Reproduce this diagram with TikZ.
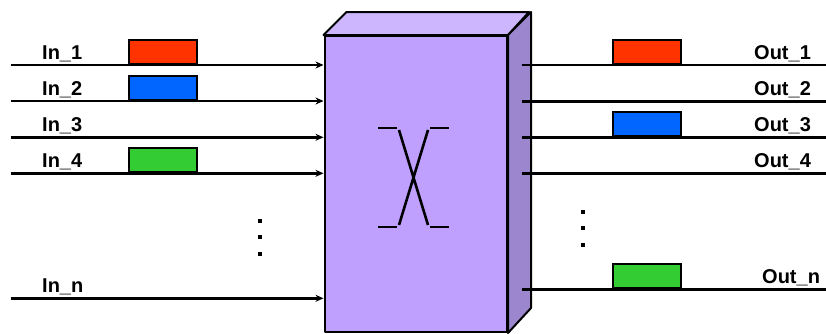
\documentclass[tikz,border=0pt]{standalone}
\usepackage{fontspec}
\setmainfont{Liberation Sans}
\usetikzlibrary{arrows.meta,positioning,calc}

\definecolor{frontface}{RGB}{192,160,255}
\definecolor{topface}{RGB}{206,182,255}
\definecolor{sideface}{RGB}{156,134,206}
\definecolor{pktred}{RGB}{255,51,0}
\definecolor{pktblue}{RGB}{0,102,255}
\definecolor{pktgreen}{RGB}{51,204,51}

\begin{document}
\begin{tikzpicture}[
  x=1pt, y=-1pt,
  >={Stealth[length=8pt,width=7pt]},
  every node/.style={font=\fontsize{20}{24}\selectfont\bfseries},
  wire/.style={line width=2.6pt},
  lbl/.style={anchor=base west, inner sep=0pt},
  packet/.style={draw, line width=2.2pt, anchor=south west, inner sep=0pt,
              minimum width=68pt, minimum height=24pt},
  dotsq/.style={fill, inner sep=0pt, minimum size=4pt},
  face/.style={draw, line width=2pt, line join=round},
]
\useasboundingbox (0,0) rectangle (826,333);

% Switch block (front, top, side)
\node[face, fill=frontface, anchor=north west, inner sep=0pt,
      minimum width=182.5pt, minimum height=296pt] (switch) at (323.5,35) {};
\draw[face, fill=topface] (switch.north west) -- ++(23,-23) -- ++(182.5,0)
  -- (switch.north east) -- cycle;
\draw[face, fill=sideface] (switch.north east) -- ++(23,-23) -- ++(0,296)
  -- (switch.south east) -- cycle;

% Crossbar symbol
\draw[line width=2.6pt] (378,128) -- (397,128) (430,128) -- (449,128);
\draw[line width=2.6pt] (378,227) -- (397,227) (430,227) -- (449,227);
\draw[line width=2.6pt] (399,130) -- (428,225) (428,130) -- (399,225);

% Inputs (left)
\coordinate (i1) at (10.5,65);
\coordinate (i2) at (10.5,101);
\coordinate (i3) at (10.5,137.3);
\coordinate (i4) at (10.5,173.3);
\coordinate (in) at (10.5,298.3);

\draw[wire, ->] (i1) -- (i1 -| switch.west);
\draw[wire, ->] (i2) -- (i2 -| switch.west);
\draw[wire, ->] (i3) -- (i3 -| switch.west);
\draw[wire, ->] (i4) -- (i4 -| switch.west);
\draw[wire, ->] (in) -- (in -| switch.west);

\node[lbl] (lin1) at (42,59) {In\_1};
\node[lbl] (lin2) at (42,95) {In\_2};
\node[lbl] (lin3) at (42,131.3) {In\_3};
\node[lbl] (lin4) at (42,167.3) {In\_4};
\node[lbl] (linn) at (42,292.3) {In\_n};

\node[packet, fill=pktred] (pin1) at (128,65) {};
\node[packet, fill=pktblue] (pin2) at (128,101) {};
\node[packet, fill=pktgreen] (pin4) at (128,173.3) {};

\node[dotsq] (ldot1) at (260,220.7) {};
\node[dotsq, below=12pt of ldot1] (ldot2) {};
\node[dotsq, below=12pt of ldot2] (ldot3) {};

% Outputs (right)
\coordinate (o1a) at (521.5,65);
\coordinate (o2a) at (521.5,101.5);
\coordinate (o3a) at (521.5,137.3);
\coordinate (o4a) at (521.5,173.3);
\coordinate (ona) at (521.5,289.3);
\coordinate (o1b) at (826,65);
\coordinate (o2b) at (826,101.5);
\coordinate (o3b) at (826,137.3);
\coordinate (o4b) at (826,173.3);
\coordinate (onb) at (826,289.3);

\draw[wire] (o1a) -- (o1b);
\draw[wire] (o2a) -- (o2b);
\draw[wire] (o3a) -- (o3b);
\draw[wire] (o4a) -- (o4b);
\draw[wire] (ona) -- (onb);

\node[lbl] (lout1) at (754,59) {Out\_1};
\node[lbl] (lout2) at (754,95.5) {Out\_2};
\node[lbl] (lout3) at (754,131.3) {Out\_3};
\node[lbl] (lout4) at (754,167.3) {Out\_4};
\node[lbl] (loutn) at (762,283.3) {Out\_n};

\node[packet, fill=pktred] (pout1) at (612,65) {};
\node[packet, fill=pktblue] (pout3) at (612,137.3) {};
\node[packet, fill=pktgreen] (poutn) at (612,289.3) {};

\node[dotsq] (rdot1) at (583.3,211.7) {};
\node[dotsq, below=12pt of rdot1] (rdot2) {};
\node[dotsq, below=12pt of rdot2] (rdot3) {};

\end{tikzpicture}
\end{document}
